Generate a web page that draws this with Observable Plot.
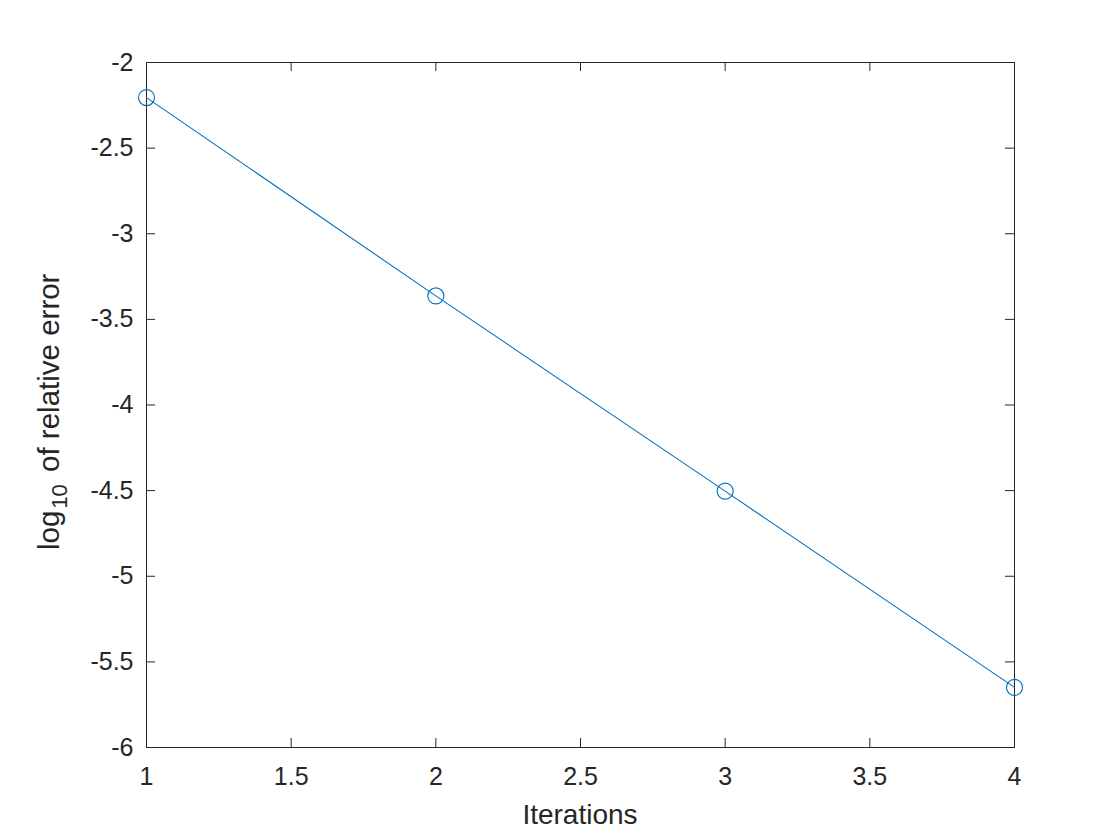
<!DOCTYPE html>
<html>
<head>
<meta charset="utf-8">
<script src="https://cdn.jsdelivr.net/npm/d3@7"></script>
<script src="https://cdn.jsdelivr.net/npm/@observablehq/plot@0.6"></script>
<style>
  html, body { margin: 0; padding: 0; background: #fff; }
  #chart svg { display: block; }
</style>
</head>
<body>
<div id="chart"></div>
<script>
const iterations = [1, 2, 3, 4];
const logError = [-2.205, -3.363, -4.503, -5.649];
const xTicks = [1, 1.5, 2, 2.5, 3, 3.5, 4];
const yTicks = [-2, -2.5, -3, -3.5, -4, -4.5, -5, -5.5, -6];

const data = iterations.map((x, i) => ({x, y: logError[i]}));

const W = 1120, H = 840;
const mL = 146, mR = 106, mT = 62, mB = 93;
const fw = W - mL - mR, fh = H - mT - mB;
const tickLen = 9;
const ink = "#262626";
const blue = "#0072BD";
const font = "'Liberation Sans', Arial, sans-serif";

const fmt = d => String(d);

const plot = Plot.plot({
  width: W,
  height: H,
  marginLeft: mL,
  marginRight: mR,
  marginTop: mT,
  marginBottom: mB,
  style: {fontFamily: font, background: "#fff", color: ink},
  x: {domain: [1, 4], ticks: xTicks, tickFormat: fmt},
  y: {domain: [-6, -2], ticks: yTicks, tickFormat: fmt},
  marks: [
    Plot.axisX({ticks: xTicks, tickSize: 0, tickPadding: 20, fontSize: 25, fill: ink, label: null, tickFormat: fmt}),
    Plot.axisY({ticks: yTicks, tickSize: 0, tickPadding: 13, fontSize: 25, fill: ink, label: null, tickFormat: fmt}),
    Plot.ruleX(xTicks, {x: d => d, insetTop: fh - tickLen, stroke: ink, strokeWidth: 1}),
    Plot.ruleX(xTicks, {x: d => d, insetBottom: fh - tickLen, stroke: ink, strokeWidth: 1}),
    Plot.ruleY(yTicks, {y: d => d, insetRight: fw - tickLen, stroke: ink, strokeWidth: 1}),
    Plot.ruleY(yTicks, {y: d => d, insetLeft: fw - tickLen, stroke: ink, strokeWidth: 1}),
    Plot.frame({stroke: ink, strokeWidth: 1}),
    Plot.line(data, {x: "x", y: "y", stroke: blue, strokeWidth: 1.1}),
    Plot.dot(data, {x: "x", y: "y", r: 8, stroke: blue, strokeWidth: 1.1, fill: "none"})
  ]
});

document.getElementById("chart").appendChild(plot);

const svg = d3.select(plot);
// x-axis label
svg.append("text")
  .attr("x", mL + fw / 2)
  .attr("y", 824)
  .attr("text-anchor", "middle")
  .attr("font-family", font)
  .attr("font-size", 28)
  .attr("fill", ink)
  .text("Iterations");

// y-axis label with subscript
const yl = svg.append("text")
  .attr("transform", `translate(59, 550) rotate(-90)`)
  .attr("text-anchor", "start")
  .attr("font-family", font)
  .attr("font-size", 29.5)
  .attr("fill", ink);
yl.append("tspan").text("log");
yl.append("tspan").attr("font-size", 22).attr("dy", 8).attr("dx", 2).text("10");
yl.append("tspan").attr("dy", -8).attr("dx", 4).text(" of relative error");
</script>
</body>
</html>
